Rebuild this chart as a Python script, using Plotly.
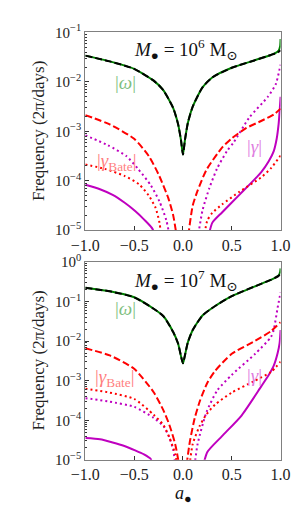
import plotly.graph_objects as go

# ---------------- data ----------------
# spin parameter a_bullet ; frequencies in 2pi/days

# Top panel: M = 1e6 Msun
top_omega_a = [-1, -0.75, -0.5, -0.3, -0.2, -0.1, -0.05, -0.02, 0, 0.02, 0.05, 0.1, 0.2, 0.3, 0.5, 0.75, 0.9, 0.95, 0.98, 1.0]
top_omega_analytic = [3.40e-2, 2.60e-2, 1.84e-2, 1.06e-2, 6.75e-3, 2.96e-3, 1.40e-3, 6.61e-4, 3.39e-4, 6.61e-4, 1.48e-3, 3.16e-3, 7.76e-3, 1.23e-2, 1.93e-2, 2.80e-2, 3.51e-2, 3.80e-2, 4.07e-2, 4.37e-2]
top_omega_green_a = [-1, -0.75, -0.5, -0.3, -0.2, -0.1, -0.05, -0.02, 0, 0.02, 0.05, 0.1, 0.2, 0.3, 0.5, 0.75, 0.9, 0.95, 0.98, 0.995, 1.0]
top_omega_numeric = [3.40e-2, 2.60e-2, 1.84e-2, 1.06e-2, 6.75e-3, 2.96e-3, 1.40e-3, 6.61e-4, 3.39e-4, 6.61e-4, 1.48e-3, 3.16e-3, 7.76e-3, 1.23e-2, 1.93e-2, 2.80e-2, 3.51e-2, 3.85e-2, 4.30e-2, 5.20e-2, 7.40e-2]

top_bate_dash_a = [-1, -0.75, -0.5, -0.35, -0.25, -0.15, -0.1, -0.06, 0.0, 0.05, 0.1, 0.15, 0.24, 0.4, 0.5, 0.65, 0.8, 0.93, 1.0]
top_bate_dash = [2.13e-3, 1.38e-3, 7.08e-4, 3.16e-4, 1.35e-4, 4.47e-5, 2.0e-5, 6.3e-6, 1e-7, 6.3e-6, 3.16e-5, 6.31e-5, 1.66e-4, 4.68e-4, 7.24e-4, 1.17e-3, 1.62e-3, 2.19e-3, 2.88e-3]

top_bate_dot_a = [-1, -0.8, -0.6, -0.45, -0.35, -0.28, -0.24, -0.21, 0.0, 0.20, 0.25, 0.3, 0.4, 0.58, 0.8, 0.9, 1.0]
top_bate_dot = [2.14e-4, 1.74e-4, 1.26e-4, 8.51e-5, 5.01e-5, 2.82e-5, 1.41e-5, 5.0e-6, 1e-7, 5.0e-6, 1.58e-5, 2.24e-5, 3.31e-5, 6.03e-5, 1.17e-4, 1.78e-4, 3.24e-4]

top_gam_dot_a = [-1, -0.77, -0.58, -0.46, -0.33, -0.24, -0.17, -0.12, 0.0, 0.14, 0.2, 0.27, 0.35, 0.45, 0.52, 0.68, 0.87, 0.95, 1.0]
top_gam_dot = [8.32e-4, 5.25e-4, 3.16e-4, 1.74e-4, 8.13e-5, 3.80e-5, 1.58e-5, 5.0e-6, 1e-7, 5.0e-6, 2.51e-5, 7.08e-5, 1.78e-4, 3.98e-4, 6.03e-4, 1.91e-3, 5.01e-3, 8.91e-3, 2.24e-2]

top_gam_a = [-1, -0.85, -0.72, -0.6, -0.49, -0.4, -0.31, -0.28, 0.0, 0.24, 0.30, 0.40, 0.58, 0.80, 0.88, 0.93, 0.96, 0.98, 0.99, 1.0]
top_gam = [8.32e-5, 6.76e-5, 5.19e-5, 3.63e-5, 2.45e-5, 1.66e-5, 1.05e-5, 5.0e-6, 1e-7, 5.0e-6, 1.41e-5, 2.29e-5, 5.25e-5, 1.48e-4, 2.51e-4, 3.98e-4, 7.08e-4, 1.41e-3, 2.51e-3, 5.01e-3]

# Bottom panel: M = 1e7 Msun
bot_omega_a = [-1, -0.75, -0.5, -0.3, -0.2, -0.1, -0.05, -0.02, 0, 0.02, 0.05, 0.1, 0.2, 0.3, 0.5, 0.75, 0.9, 0.95, 0.98, 1.0]
bot_omega_analytic = [0.224, 0.182, 0.129, 0.0661, 0.0427, 0.0170, 8.71e-3, 4.17e-3, 2.75e-3, 4.37e-3, 9.33e-3, 0.0191, 0.0447, 0.0692, 0.138, 0.251, 0.355, 0.407, 0.447, 0.501]
bot_omega_green_a = [-1, -0.75, -0.5, -0.3, -0.2, -0.1, -0.05, -0.02, 0, 0.02, 0.05, 0.1, 0.2, 0.3, 0.5, 0.75, 0.9, 0.95, 0.98, 0.995, 1.0]
bot_omega_numeric = [0.224, 0.182, 0.129, 0.0661, 0.0427, 0.0170, 8.71e-3, 4.17e-3, 2.75e-3, 4.37e-3, 9.33e-3, 0.0191, 0.0447, 0.0692, 0.138, 0.251, 0.355, 0.41, 0.46, 0.56, 0.69]

bot_bate_dash_a = [-1, -0.75, -0.5, -0.3, -0.2, -0.14, -0.08, -0.03, 0.0, 0.03, 0.07, 0.12, 0.175, 0.25, 0.33, 0.5, 0.74, 0.9, 1.0]
bot_bate_dash = [6.61e-3, 4.37e-3, 2.0e-3, 5.13e-4, 1.78e-4, 7.76e-5, 2.51e-5, 5e-6, 1e-7, 5e-6, 2.82e-5, 1.12e-4, 3.16e-4, 8.91e-4, 1.78e-3, 4.79e-3, 1.02e-2, 1.78e-2, 3.02e-2]

bot_bate_dot_a = [-1, -0.75, -0.5, -0.3, -0.2, -0.14, -0.08, -0.05, 0.0, 0.06, 0.1, 0.17, 0.24, 0.33, 0.5, 0.72, 0.9, 1.0]
bot_bate_dot = [6.31e-4, 5.01e-4, 3.47e-4, 1.38e-4, 7.59e-5, 3.72e-5, 1.41e-5, 5e-6, 1e-7, 5e-6, 2.51e-5, 7.08e-5, 1.41e-4, 2.51e-4, 5.01e-4, 9.55e-4, 1.66e-3, 3.02e-3]

bot_gam_dot_a = [-1, -0.75, -0.5, -0.3, -0.2, -0.14, -0.1, -0.07, 0.0, 0.11, 0.15, 0.24, 0.35, 0.5, 0.74, 0.9, 0.93, 0.97, 1.0]
bot_gam_dot = [3.63e-4, 2.95e-4, 2.19e-4, 1.15e-4, 7.08e-5, 3.72e-5, 1.78e-5, 5e-6, 1e-7, 5e-6, 2.51e-5, 1.58e-4, 5.62e-4, 1.41e-3, 4.79e-3, 1.26e-2, 1.95e-2, 7.08e-2, 0.170]

bot_gam_a = [-1, -0.85, -0.72, -0.6, -0.49, -0.4, -0.33, -0.3, 0.0, 0.19, 0.25, 0.4, 0.6, 0.8, 0.88, 0.93, 0.97, 0.99, 1.0]
bot_gam = [3.55e-5, 3.31e-5, 2.75e-5, 2.24e-5, 1.74e-5, 1.38e-5, 1.05e-5, 5e-6, 1e-7, 5e-6, 1.58e-5, 3.98e-5, 1.32e-4, 7.08e-4, 1.41e-3, 2.40e-3, 5.01e-3, 8.91e-3, 1.91e-2]

# ticks and labels
x_tickvals = [-1.0, -0.5, 0.0, 0.5, 1.0]
x_ticktext = ["\u22121.0", "\u22120.5", "0.0", "0.5", "1.0"]
top_y_tickvals = [1e-5, 1e-4, 1e-3, 1e-2, 1e-1]
top_y_ticktext = ["10<sup>\u22125</sup>", "10<sup>\u22124</sup>", "10<sup>\u22123</sup>", "10<sup>\u22122</sup>", "10<sup>\u22121</sup>"]
bot_y_tickvals = [1e-5, 1e-4, 1e-3, 1e-2, 1e-1, 1e0]
bot_y_ticktext = ["10<sup>\u22125</sup>", "10<sup>\u22124</sup>", "10<sup>\u22123</sup>", "10<sup>\u22122</sup>", "10<sup>\u22121</sup>", "10<sup>0</sup>"]
panel_titles = ["<i>M</i><sub>\u25cf</sub> = 10<sup>6</sup> M<sub>\u2299</sub>",
                "<i>M</i><sub>\u25cf</sub> = 10<sup>7</sup> M<sub>\u2299</sub>"]
y_title = "Frequency (2\u03c0/days)"
x_title = "<i>a</i><sub>\u25cf</sub>"

# ---------------- styling ----------------
W, H = 300, 510
FONT = "Liberation Serif, DejaVu Serif, serif"
GREEN, BLACK, RED, MAG = "#008000", "#000000", "#ff0000", "#bf00bf"
L_GREEN, L_RED, L_MAG = "#7fbf7f", "#ff7f7f", "#df7fdf"
DASH = "7px,3px"
DOT = "2px,3px"
LW = 2


def px(x):
    return x / W


def py(y):
    return 1 - y / H


fig = go.Figure()

panels = [
    dict(xa="x", ya="y",
         omega_g=(top_omega_green_a, top_omega_numeric),
         omega_b=(top_omega_a, top_omega_analytic),
         bdash=(top_bate_dash_a, top_bate_dash),
         bdot=(top_bate_dot_a, top_bate_dot),
         gdot=(top_gam_dot_a, top_gam_dot),
         gsol=(top_gam_a, top_gam)),
    dict(xa="x2", ya="y2",
         omega_g=(bot_omega_green_a, bot_omega_numeric),
         omega_b=(bot_omega_a, bot_omega_analytic),
         bdash=(bot_bate_dash_a, bot_bate_dash),
         bdot=(bot_bate_dot_a, bot_bate_dot),
         gdot=(bot_gam_dot_a, bot_gam_dot),
         gsol=(bot_gam_a, bot_gam)),
]

for p in panels:
    specs = [
        ("gsol", MAG, "solid"),
        ("gdot", MAG, DOT),
        ("bdot", RED, DOT),
        ("bdash", RED, DASH),
        ("omega_g", GREEN, "solid"),
        ("omega_b", BLACK, DASH),
    ]
    for key, col, dash in specs:
        xs, ys = p[key]
        fig.add_trace(go.Scatter(
            x=xs, y=ys, mode="lines", xaxis=p["xa"], yaxis=p["ya"],
            line=dict(color=col, width=LW, dash=dash, shape="spline", smoothing=0.6),
            showlegend=False, hoverinfo="skip"))

axis_common = dict(
    showline=True, linecolor="#808080", linewidth=1.2, mirror=True,
    ticks="inside", ticklen=4, tickwidth=1, tickcolor="#333",
    showgrid=False, zeroline=False,
)
xfont = dict(family=FONT, size=16, color="#222")
yfont = dict(family=FONT, size=15, color="#222")
yminor = dict(ticks="inside", ticklen=2, tickwidth=0.8, tickcolor="#333", dtick="D1", showgrid=False)

x_dom = [px(68), px(281)]
fig.update_layout(
    width=W, height=H,
    margin=dict(l=0, r=0, t=0, b=0),
    paper_bgcolor="white", plot_bgcolor="white",
    xaxis=dict(domain=x_dom, range=[-1, 1], anchor="y", tickvals=x_tickvals, ticktext=x_ticktext,
               tickfont=xfont, **axis_common),
    yaxis=dict(domain=[py(220), py(15)], type="log", range=[-5, -1], anchor="x",
               tickvals=top_y_tickvals, ticktext=top_y_ticktext, tickfont=yfont,
               minor=yminor, **axis_common),
    xaxis2=dict(domain=x_dom, range=[-1, 1], anchor="y2", tickvals=x_tickvals, ticktext=x_ticktext,
                tickfont=xfont, **axis_common),
    yaxis2=dict(domain=[py(458), py(253)], type="log", range=[-5, 0], anchor="x2",
                tickvals=bot_y_tickvals, ticktext=bot_y_ticktext, tickfont=yfont,
                minor=yminor, **axis_common),
)

ann = []
# panel titles
for t, y in zip(panel_titles, [33, 272]):
    ann.append(dict(text=t, x=px(178), y=py(y), font=dict(family=FONT, size=19, color="#111")))
# y titles
for y in [117.5, 355.5]:
    ann.append(dict(text=y_title, x=px(17), y=py(y), textangle=-90, font=dict(family=FONT, size=17, color="#222")))
# x title
ann.append(dict(text=x_title, x=px(175), y=py(494), font=dict(family=FONT, size=18, color="#111")))
# curve labels
labels = [
    ("|<i>\u03c9</i>|", 112, 67, L_GREEN),
    ("|<i>\u03b3</i><sub>Bate</sub>|", 103, 149, L_RED),
    ("|<i>\u03b3</i>|", 253, 133, L_MAG),
    ("|<i>\u03c9</i>|", 112, 301, L_GREEN),
    ("|<i>\u03b3</i><sub>Bate</sub>|", 100, 373, L_RED),
    ("|<i>\u03b3</i>|", 252, 371, L_MAG),
]
for t, x, y, c in labels:
    ann.append(dict(text=t, x=px(x), y=py(y), font=dict(family=FONT, size=19, color=c)))

for a in ann:
    a.update(xref="paper", yref="paper", showarrow=False, xanchor="center", yanchor="middle")
fig.update_layout(annotations=ann)

fig.write_html("out.html")
